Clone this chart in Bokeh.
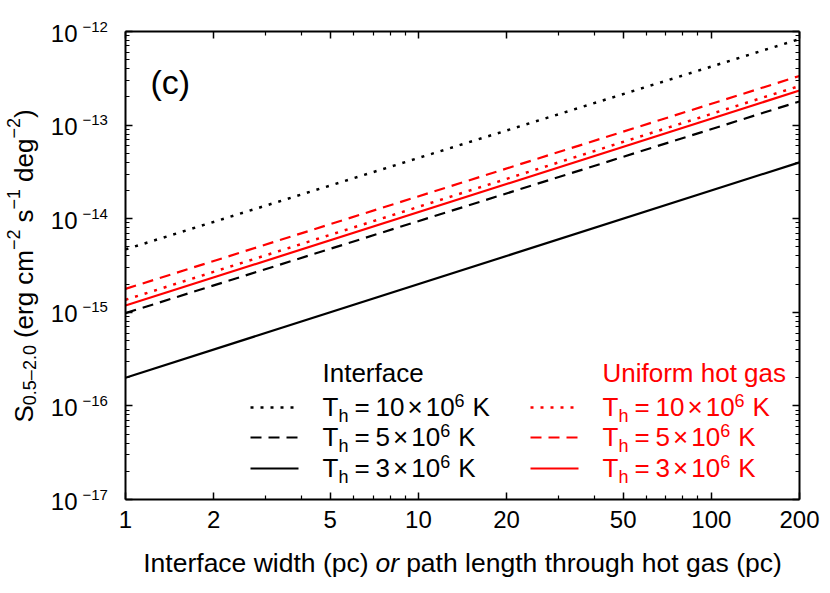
import math
from bokeh.plotting import figure
from bokeh.models import (Range1d, LogAxis, FixedTicker, CustomJSTickFormatter, Label)
from bokeh.embed import file_html
from bokeh.resources import INLINE

# ---------------- data ----------------
path_pc = [1, 200]
interface_10 = [4.7e-15, 8.3e-13]
interface_5 = [9.8e-16, 1.79e-13]
interface_3 = [2.0e-16, 4.0e-14]
uniform_10 = [1.36e-15, 2.62e-13]
uniform_5 = [1.78e-15, 3.35e-13]
uniform_3 = [1.18e-15, 2.34e-13]

x_ticks = [1, 2, 5, 10, 20, 50, 100, 200]
x_tick_labels = ["1", "2", "5", "10", "20", "50", "100", "200"]
x_minor_ticks = [3, 4, 6, 7, 8, 9, 30, 40, 60, 70, 80, 90]
y_exponents = [-17, -16, -15, -14, -13, -12]
temperatures = ["10", "5", "3"]

# ---------------- geometry / style ----------------
X_MIN, X_MAX = 1, 200
Y_MIN, Y_MAX = 1e-17, 1e-12
FIG_W, FIG_H = 822, 585
BOX_L, BOX_T, BOX_R, BOX_B = 125, 31, 799, 499   # plotting box in page px
W, H = BOX_R - BOX_L, BOX_B - BOX_T
FONT = "Liberation Sans"
RED = "#ff0000"
DOTTED = "3 7"
DASHED = "11 7"
BASE_FIX = 0.39   # label baseline correction (fraction of font size)

HELV = {' ': 278, '(': 333, ')': 333, '.': 278, '-': 333, '–': 556, '−': 584,
        '×': 584, '=': 584, 'a': 556, 'c': 500, 'd': 556, 'e': 556, 'f': 278,
        'g': 556, 'h': 556, 'i': 222, 'l': 222, 'm': 833, 'n': 556, 'o': 556,
        'p': 556, 'r': 333, 's': 500, 't': 278, 'u': 556, 'w': 722, 'I': 278,
        'K': 667, 'S': 667, 'T': 611, 'U': 722}


def tw(s, size):
    return sum(HELV.get(ch, 556) for ch in s) * size / 1000.0


LX = math.log10(X_MAX) - math.log10(X_MIN)
LY = math.log10(Y_MAX) - math.log10(Y_MIN)


def data_x(dx):
    return 10 ** (math.log10(X_MIN) + dx / W * LX)


def data_y(dy):
    return 10 ** (math.log10(Y_MIN) + dy / H * LY)


# ranges extended so the whole canvas is the frame; the axes sit at the data box
x_range = Range1d(data_x(-BOX_L), data_x(W + FIG_W - BOX_R))
y_range = Range1d(data_y(-(FIG_H - BOX_B)), data_y(H + BOX_T))

p = figure(width=FIG_W, height=FIG_H, x_axis_type="log", y_axis_type="log",
           x_range=x_range, y_range=y_range,
           x_axis_location=None, y_axis_location=None,
           output_backend="svg", toolbar_location=None,
           min_border_left=0, min_border_right=0,
           min_border_top=0, min_border_bottom=0)
p.grid.visible = False
p.background_fill_color = "white"
p.border_fill_color = "white"
p.outline_line_color = None

xt = FixedTicker(ticks=x_ticks, minor_ticks=x_minor_ticks)
y_major = [10.0 ** e for e in y_exponents]
y_minor = [k * 10.0 ** e for e in y_exponents[:-1] for k in range(2, 10)]
yt = FixedTicker(ticks=y_major, minor_ticks=y_minor)


def make_axis(ticker, loc, bounds):
    ax = LogAxis(ticker=ticker, fixed_location=loc, bounds=bounds)
    ax.axis_line_width = 2
    ax.axis_line_color = "black"
    ax.major_tick_in = 7
    ax.major_tick_out = 0
    ax.minor_tick_in = 4
    ax.minor_tick_out = 0
    ax.major_tick_line_width = 1.5
    ax.minor_tick_line_width = 1.2
    ax.major_tick_line_color = "black"
    ax.minor_tick_line_color = "black"
    ax.formatter = CustomJSTickFormatter(code="return ''")
    ax.major_label_standoff = 0
    ax.major_label_text_font_size = "1px"
    return ax


p.add_layout(make_axis(xt, Y_MIN, (X_MIN, X_MAX)), "below")
p.add_layout(make_axis(xt, Y_MAX, (X_MIN, X_MAX)), "above")
p.add_layout(make_axis(yt, X_MIN, (Y_MIN, Y_MAX)), "left")
p.add_layout(make_axis(yt, X_MAX, (Y_MIN, Y_MAX)), "right")

# ---------------- data lines ----------------
p.line(path_pc, interface_10, line_color="black", line_width=2.5, line_dash=DOTTED)
p.line(path_pc, interface_5, line_color="black", line_width=2.2, line_dash=DASHED)
p.line(path_pc, interface_3, line_color="black", line_width=2.2)
p.line(path_pc, uniform_10, line_color=RED, line_width=2.5, line_dash=DOTTED)
p.line(path_pc, uniform_5, line_color=RED, line_width=2.2, line_dash=DASHED)
p.line(path_pc, uniform_3, line_color=RED, line_width=2.2)


# ---------------- text helpers ----------------
def add_text(text, dx, dy, size, color="black", style="normal", vertical=False,
             align="left", x=X_MIN, y=Y_MIN):
    fix = BASE_FIX * size
    if vertical:
        dx, angle = dx - fix, math.pi / 2
    else:
        dy, angle = dy + fix, 0.0
    p.add_layout(Label(x=x, y=y, x_offset=dx, y_offset=dy, text=text,
                       text_font=FONT, text_font_size=f"{size}px",
                       text_color=color, text_font_style=style,
                       text_align=align, text_baseline="alphabetic",
                       angle=angle))


def add_rich(segments, dx, dy, color="black", vertical=False):
    """segments: (text, size, baseline_shift, style, gap_before_px)"""
    cursor = 0.0
    for seg in segments:
        text, size, shift = seg[0], seg[1], seg[2]
        style = seg[3] if len(seg) > 3 else "normal"
        gap = seg[4] if len(seg) > 4 else 0
        cursor += gap
        if vertical:
            add_text(text, dx - shift, dy + cursor, size, color, style, vertical=True)
        else:
            add_text(text, dx + cursor, dy + shift, size, color, style)
        cursor += tw(text, size)
    return cursor


def rich_width(segments):
    return sum(tw(s[0], s[1]) + (s[4] if len(s) > 4 else 0) for s in segments)


# x tick labels
for t, lab in zip(x_ticks, x_tick_labels):
    add_text(lab, 0, -29, 24, align="center", x=t)

# y tick labels 10^n
for e in y_exponents:
    add_text("10", -48, -11, 24, align="right", y=10.0 ** e)
    add_text("−" + str(abs(e)), -43, -1, 15, y=10.0 ** e)

# y axis label (vertical)
SP = 7
add_rich([("S", 26, 0), ("0.5–2.0", 18, -3), ("(erg cm", 26, 0, "normal", SP),
          ("−2", 18, 14), ("s", 26, 0, "normal", SP), ("−1", 18, 14),
          ("deg", 26, 0, "normal", SP), ("−2", 18, 14), (")", 26, 0)],
         -91, 77, vertical=True)

# x axis label
xl_segs = [("Interface width (pc)", 26.5, 0), ("or", 26.5, 0, "italic", SP),
           ("path length through hot gas (pc)", 26.5, 0, "normal", SP)]
add_rich(xl_segs, W / 2 - rich_width(xl_segs) / 2, -74)

# panel tag
add_text("(c)", 25, 404, 34)

# ---------------- legends ----------------
row_base = [82, 52, 21]
row_mid = [92, 62, 31]
styles = [DOTTED, DASHED, None]
widths = [2.5, 2.2, 2.2]

for title, color, sx0, tx0 in [("Interface", "black", 125, 197),
                               ("Uniform hot gas", RED, 405, 477)]:
    add_text(title, tx0, 116, 26, color=color)
    for i, temp in enumerate(temperatures):
        kw = dict(line_color=color, line_width=widths[i])
        if styles[i]:
            kw["line_dash"] = styles[i]
        yy = data_y(row_mid[i])
        p.line([data_x(sx0), data_x(sx0 + 48)], [yy, yy], **kw)
        add_rich([("T", 26, 0), ("h", 18, -6), ("=", 26, 0, "normal", 6),
                  (temp, 26, 0, "normal", 6), ("×", 26, 0, "normal", 3),
                  ("10", 26, 0, "normal", 3), ("6", 18, 10),
                  ("K", 26, 0, "normal", 8)], tx0, row_base[i], color=color)

open("out.html", "w").write(file_html(p, INLINE))
